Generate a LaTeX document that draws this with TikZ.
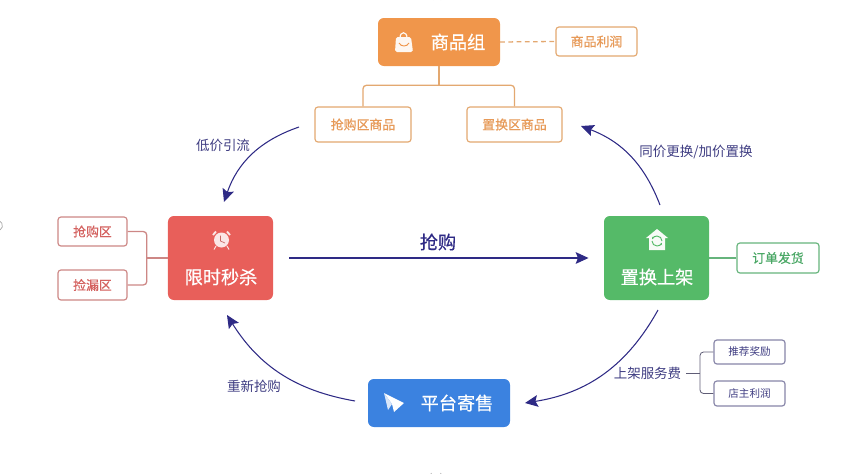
\documentclass[tikz,border=0pt]{standalone}
\usepackage{fontspec}
\setmainfont{Noto Sans CJK SC}
\newfontfamily\cjkmedium[FakeBold=0.5]{Noto Sans CJK SC}
\usetikzlibrary{arrows.meta,calc}

\definecolor{navyline}{HTML}{2E2A85}
\definecolor{navytext}{HTML}{3F3D82}
\definecolor{orangefill}{HTML}{F0964B}
\definecolor{orangeline}{HTML}{E3A870}
\definecolor{orangetext}{HTML}{E79A58}
\definecolor{redfill}{HTML}{E85F5A}
\definecolor{redline}{HTML}{CD8785}
\definecolor{redtext}{HTML}{D4615F}
\definecolor{greenfill}{HTML}{55BA68}
\definecolor{greenline}{HTML}{66B47C}
\definecolor{greentext}{HTML}{4BA866}
\definecolor{bluefill}{HTML}{3B82E0}
\definecolor{purpleline}{HTML}{8785A8}

\tikzset{
  mainbox/.style={rounded corners=5pt, inner sep=0pt, minimum height=1.44cm},
  boxtext/.style={text=white, font=\cjkmedium\fontsize{15.5}{18}\selectfont, inner sep=0pt},
  subbox/.style={draw, rounded corners=2.5pt, inner sep=0pt, line width=1pt, fill=white, font=\cjkmedium\fontsize{11}{13}\selectfont},
  flowtext/.style={text=navytext, inner sep=0pt, font=\fontsize{11.5}{14}\selectfont},
  flow/.style={draw=navyline, line width=0.9pt, -{Stealth[length=11pt,width=10pt,inset=2pt]}},
  branch/.style={line width=1.1pt}
}

\begin{document}
\begin{tikzpicture}[x=0.03cm,y=-0.03cm]
\useasboundingbox (0,0) rectangle (866,473);

% main blocks
\node[mainbox, fill=orangefill, minimum width=3.66cm] (shangpinzu) at (439,42) {};
\node[mainbox, fill=redfill, minimum width=3.15cm, minimum height=2.52cm] (xianshi) at (220.5,258) {};
\node[mainbox, fill=greenfill, minimum width=3.15cm, minimum height=2.52cm] (zhihuan) at (656.5,258) {};
\node[mainbox, fill=bluefill, minimum width=4.26cm] (jishou) at (439,403) {};

\node[boxtext] (shangpinzutxt) at (458,42) {商品组};
\node[boxtext] (xianshitxt) at (221,277) {限时秒杀};
\node[boxtext] (zhihuantxt) at (657,277) {置换上架};
\node[boxtext] (jishoutxt) at (457,403) {平台寄售};

% orange branch
\node[subbox, draw=orangeline, text=orangetext, minimum width=2.43cm, minimum height=0.87cm] (lirun) at (596.5,41.5) {商品利润};
\node[subbox, draw=orangeline, text=orangetext, minimum width=2.88cm, minimum height=1.05cm] (qgshangpin) at (363,124.5) {抢购区商品};
\node[subbox, draw=orangeline, text=orangetext, minimum width=2.85cm, minimum height=1.05cm] (zhshangpin) at (514.5,124.5) {置换区商品};
\draw[orangeline, branch, dash pattern=on 4pt off 3pt] (shangpinzu.east) -- (lirun.west);
\draw[orangeline, branch] (shangpinzu.south) -- ++(0,19) coordinate (orangefork);
\draw[orangeline, branch, rounded corners=3pt] (qgshangpin.north) |- (orangefork) -| (zhshangpin.north);

% red branch
\node[subbox, draw=redline, text=redtext, minimum width=2.07cm, minimum height=0.87cm] (qianggou) at (92.5,231.5) {抢购区};
\node[subbox, draw=redline, text=redtext, minimum width=2.07cm, minimum height=0.9cm] (jianlou) at (92.5,285) {捡漏区};
\draw[redline, branch] (xianshi.west) -- ++(-21,0) coordinate (redfork);
\draw[redline, branch, rounded corners=3pt] (qianggou.east) -| (redfork) |- (jianlou.east);

% green branch
\node[subbox, draw=greenline, text=greentext, minimum width=2.46cm, minimum height=0.9cm] (fahuo) at (778,258) {订单发货};
\draw[greenline, branch] (zhihuan.east) -- (fahuo.west);

% fee branch
\node[flowtext] (fuwufei) at (647.5,373) {上架服务费};
\node[subbox, draw=purpleline, text=navytext, font=\fontsize{9}{11}\selectfont, minimum width=2.13cm, minimum height=0.72cm] (tuijian) at (749.5,352) {推荐奖励};
\node[subbox, draw=purpleline, text=navytext, font=\fontsize{9}{11}\selectfont, minimum width=2.13cm, minimum height=0.75cm] (dianzhu) at (749.5,393.5) {店主利润};
\coordinate (feefork) at (700,373);
\draw[purpleline!70!black, line width=0.7pt] ($(fuwufei.east)+(5,0)$) -- (feefork);
\draw[purpleline!70!black, line width=0.7pt, rounded corners=3pt] (tuijian.west) -| (feefork) |- (dianzhu.west);

% flow arrows
\coordinate (topleft) at (299,127);
\coordinate (leftin) at (224,202);
\coordinate (rightout) at (660,205);
\coordinate (topright) at (581,126);
\coordinate (rightlow) at (658,310);
\coordinate (bottomin) at (525,403);
\coordinate (bottomout) at (355,401);
\coordinate (leftlow) at (227,315);
\draw[flow] (topleft) to[bend right=26] (leftin);
\draw[flow] (rightout) to[bend right=24] (topright);
\draw[flow] (rightlow) to[bend left=26] (bottomin);
\draw[flow] (bottomout) to[bend left=24] (leftlow);
\draw[flow, shorten <=13.5pt, shorten >=13pt] (xianshi.east) -- (zhihuan.west);

\node[flowtext] (dijia) at (223,145) {低价引流};
\node[flowtext] (tongjia) at (696,152) {同价更换/加价置换};
\node[flowtext] (chongxin) at (254,386) {重新抢购};
\node[flowtext, text=navyline, font=\cjkmedium\fontsize{15.5}{18}\selectfont] (qianggoulbl) at (438,242) {抢购};

% bag icon
\fill[white!92!orangefill, rounded corners=1.5pt] (396,37) -- (411,37) -- (413,52) -- (395,52) -- cycle;
\draw[white!92!orangefill, line width=1pt] (400,38) .. controls (400,31) and (407,31) .. (407,38);
\draw[orangefill, line width=0.8pt] (399,43) .. controls (401,47) and (407,47) .. (409,43);

% alarm clock icon
\fill[white!85!redfill] (221.5,240) circle (7.5);
\draw[white!85!redfill, line width=1.6pt] (213,235) -- (216,231.5) (230,235) -- (227,231.5);
\draw[white!85!redfill, line width=0.8pt] (216,246) -- (214,249.5) (227,246) -- (229,249.5);
\draw[redfill!70!gray, line width=0.6pt] (220.5,235.5) -- (220.5,241) -- (225,243);

% house icon
\fill[white!95!greenfill] (657,229) -- (668,238) -- (665,238) -- (665,250) -- (649,250) -- (649,238) -- (646,238) -- cycle;
\draw[greenfill, line width=0.8pt, -{Stealth[length=2pt,width=2pt]}] (652,241) arc (180:20:5);
\draw[greenfill, line width=0.8pt, -{Stealth[length=2pt,width=2pt]}] (662,241) arc (0:-160:5);

% paper plane icon
\fill[white] (384,393) -- (404,403) -- (394,412) -- (392,404) -- cycle;
\fill[white!80!bluefill] (384,393) -- (392,404) -- (388,410) -- cycle;

% clipped marks along the edges
\draw[gray!70, line width=0.6pt] (431,473) arc (180:0:5);
\draw[gray!70, line width=0.6pt] (0,230) arc (60:-60:5);
\draw[gray!40, line width=0.6pt] (433,0) arc (180:360:4);
\end{tikzpicture}
\end{document}
